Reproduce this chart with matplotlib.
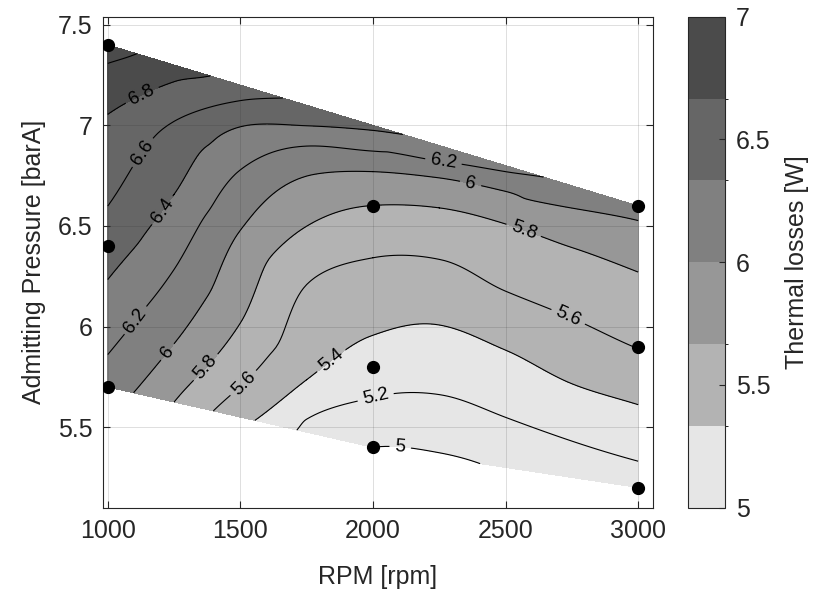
import numpy as np
import matplotlib
matplotlib.use('Agg')
import matplotlib.pyplot as plt
import matplotlib.tri as mtri
from matplotlib.colors import ListedColormap, BoundaryNorm
from matplotlib.cm import ScalarMappable
from matplotlib.ticker import FormatStrFormatter

# measured operating points (black dots)
test_rpm = [1000, 1000, 1000, 2000, 2000, 2000, 3000, 3000, 3000]
test_pressure = [7.4, 6.4, 5.7, 6.6, 5.8, 5.4, 6.6, 5.9, 5.2]

# loss field, column by column (rpm -> pressure, loss)
col_rpm = [1000, 1250, 1500, 1750, 2000, 2250, 2500, 2750, 3000]
col_pressure = [
    [5.7, 5.861, 6.234, 6.599, 7.055, 7.308, 7.4],
    [5.625, 5.915, 6.284, 6.657, 7.02, 7.217, 7.3],
    [5.55, 5.703, 6.018, 6.479, 6.779, 6.993, 7.123, 7.2],
    [5.475, 5.54, 5.736, 6.209, 6.499, 6.748, 6.897, 6.998, 7.1],
    [5.4, 5.648, 5.957, 6.342, 6.602, 6.77, 6.872, 6.975, 7.0],
    [5.35, 5.373, 5.662, 6.008, 6.334, 6.59, 6.739, 6.823, 6.9],
    [5.3, 5.549, 5.883, 6.176, 6.51, 6.672, 6.77, 6.8],
    [5.25, 5.431, 5.716, 6.042, 6.393, 6.589, 6.7],
    [5.2, 5.331, 5.612, 5.89, 6.271, 6.527, 6.6],
]
col_loss = [
    [6.10, 6.2, 6.4, 6.6, 6.8, 7.0, 7.07],
    [5.8, 6.0, 6.2, 6.4, 6.6, 6.8, 6.87],
    [5.45, 5.6, 5.8, 6.0, 6.2, 6.4, 6.6, 6.71],
    [5.14, 5.2, 5.4, 5.6, 5.8, 6.0, 6.2, 6.4, 6.55],
    [5.0, 5.2, 5.4, 5.6, 5.8, 6.0, 6.2, 6.4, 6.45],
    [4.97, 5.0, 5.2, 5.4, 5.6, 5.8, 6.0, 6.2, 6.33],
    [5.03, 5.2, 5.4, 5.6, 5.8, 6.0, 6.2, 6.24],
    [5.08, 5.2, 5.4, 5.6, 5.8, 6.0, 6.14],
    [5.1, 5.2, 5.4, 5.6, 5.8, 6.0, 6.07],
]

# where contour lines meet the edge of the measured region
edge_rpm = [1109, 1386, 1660, 2113, 2643, 1097, 1398, 1555, 1713, 2404]
edge_pressure = [7.356, 7.246, 7.136, 6.955, 6.743, 5.671, 5.581, 5.534, 5.486, 5.319]
edge_loss = [7.0, 6.8, 6.6, 6.4, 6.2, 6.0, 5.6, 5.4, 5.2, 5.0]

contour_levels = [5.0, 5.2, 5.4, 5.6, 5.8, 6.0, 6.2, 6.4, 6.6, 6.8, 7.0, 7.2]
band_edges = [5.0, 5.333, 5.667, 6.0, 6.333, 6.667, 7.0]
band_colors = ['#e6e6e6', '#b3b3b3', '#979797', '#808080', '#666666', '#4b4b4b']
cbar_ticks = [5, 5.5, 6, 6.5, 7]

# inline contour label spots (rpm, barA)
label_spots = [(1128, 7.154), (1141, 6.856), (1210, 6.574), (1109, 6.027),
               (1222, 5.877), (1373, 5.794), (1511, 5.72), (1851, 5.819),
               (2010, 5.65), (2102, 5.388), (2265, 6.814), (2366, 6.70),
               (2567, 6.474), (2731, 6.035)]

plt.rcParams['font.family'] = ['Liberation Sans', 'DejaVu Sans']
plt.rcParams['font.size'] = 18
dark = '#262626'

# gather samples
xs, ys, zs = [], [], []
for r, ps, ls in zip(col_rpm, col_pressure, col_loss):
    xs += [r] * len(ps)
    ys += ps
    zs += ls
xs += edge_rpm
ys += edge_pressure
zs += edge_loss
xs, ys, zs = np.array(xs, float), np.array(ys), np.array(zs)

# triangulate in roughly screen-proportional units, then use real coords
base = mtri.Triangulation(xs / 1000 * 1.32, ys)
triang = mtri.Triangulation(xs, ys, base.triangles)
triang.set_mask(mtri.TriAnalyzer(base).get_flat_tri_mask(0.01))
interp = mtri.CubicTriInterpolator(triang, zs, kind='geom')
refiner = mtri.UniformTriRefiner(triang)
tri_f, z_f = refiner.refine_field(zs, triinterpolator=interp, subdiv=4)

fig = plt.figure(figsize=(8.23, 5.9), dpi=100)
ax = fig.add_axes([0.1255, 0.1395, 0.6676, 0.8322])
cax = fig.add_axes([0.8356, 0.1395, 0.0453, 0.8322])

# MATLAB-style colouring: each band takes the colour of its lower level
fill_colors = [band_colors[min(int(np.floor((lv - 5.0) * 3 + 1e-9)), 5)]
               for lv in contour_levels[:-1]]
ax.tricontourf(tri_f, z_f, levels=contour_levels, colors=fill_colors, zorder=1)
cs = ax.tricontour(tri_f, z_f, levels=contour_levels[:-1], colors='k',
                   linewidths=0.8, zorder=2)
ax.clabel(cs, fmt='%g', fontsize=13.5, inline=True, inline_spacing=6,
          manual=label_spots)

ax.plot(test_rpm, test_pressure, 'o', color='k', markersize=8.5, zorder=4)

ax.set_xlim(983, 3055)
ax.set_ylim(5.1, 7.54)
ax.set_xticks([1000, 1500, 2000, 2500, 3000])
ax.set_yticks([5.5, 6, 6.5, 7, 7.5])
ax.yaxis.set_major_formatter(FormatStrFormatter('%g'))
ax.set_axisbelow(False)
ax.grid(True, color=dark, alpha=0.15, linewidth=0.7)
ax.tick_params(direction='in', top=True, right=True, length=5, width=0.8,
               color=dark, labelcolor=dark, pad=8)
for sp in ax.spines.values():
    sp.set_color(dark)
    sp.set_linewidth(0.8)
ax.set_xlabel('RPM [rpm]', color=dark, labelpad=16)
ax.set_ylabel('Admitting Pressure [barA]', color=dark, labelpad=8)

norm = BoundaryNorm(band_edges, len(band_colors))
sm = ScalarMappable(norm=norm, cmap=ListedColormap(band_colors))
cb = fig.colorbar(sm, cax=cax, ticks=cbar_ticks, format=FormatStrFormatter('%g'))
cb.ax.tick_params(direction='in', length=4, width=0.8, color=dark,
                  labelcolor=dark, pad=8)
cb.outline.set_edgecolor(dark)
cb.outline.set_linewidth(0.8)
cb.set_label('Thermal losses [W]', color=dark, labelpad=10)

fig.savefig('out.png', dpi=100)
